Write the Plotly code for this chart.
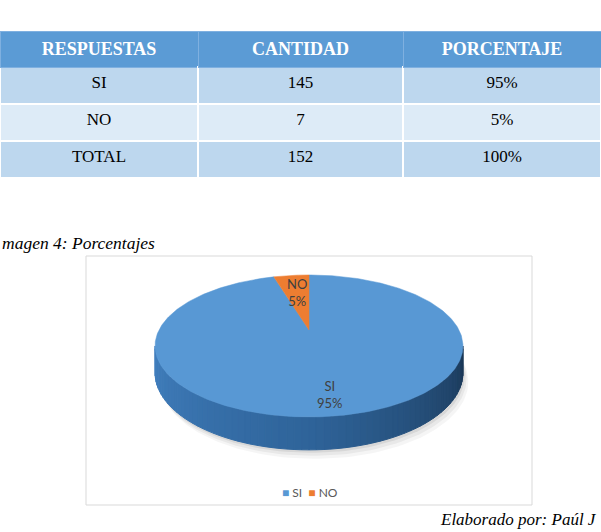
import numpy as np
import plotly.graph_objects as go

# ---------------- data ----------------
col_headers = ["RESPUESTAS", "CANTIDAD", "PORCENTAJE"]
respuestas = ["SI", "NO", "TOTAL"]
cantidad = ["145", "7", "152"]
porcentaje = ["95%", "5%", "100%"]

slice_labels = ["SI", "NO"]
slice_values = [145, 7]
slice_colors = ["#5898D4", "#ED7D31"]

caption = "magen 4: Porcentajes"
footer = "Elaborado por: Paúl J"

W, H = 601, 532

fig = go.Figure()

# ---------------- table ----------------
row_fill = ["#BDD7EE", "#DDEBF7", "#BDD7EE"]
fig.add_trace(go.Table(
    domain=dict(x=[0, 1], y=[1 - 215 / H, 1 - 31 / H]),
    columnwidth=[198, 205, 198],
    header=dict(values=["<b>%s</b>" % h for h in col_headers],
                fill_color="#5B9BD5",
                line=dict(color="#7FB0E0", width=1),
                font=dict(family="Liberation Serif", size=18, color="white"),
                align="center", height=35),
    cells=dict(values=[respuestas, cantidad, porcentaje],
               fill_color=[row_fill, row_fill, row_fill],
               line=dict(color="white", width=2),
               font=dict(family="Liberation Serif", size=17, color="black"),
               align="center", height=37),
))

# ---------------- 3D pie (perspective projection) ----------------
cx, cy = 309.0, 330.0     # projected centre
A, B = 150.0, 67.4        # horizontal / vertical radius scale
k = 0.225                 # perspective strength
D = 25.5                  # extrusion depth


def proj(x, z, drop=0.0):
    s = 1.0 / (1.0 + k * z)
    return cx + A * x * s, cy - B * z * s + drop * s


total = float(sum(slice_values))
fracs = [v / total for v in slice_values]
starts, ends = [], []
a0 = np.pi / 2
for f in fracs:
    a1 = a0 - f * 2 * np.pi
    starts.append(a0)
    ends.append(a1)
    a0 = a1

# soft shadow under the pie
tt = np.linspace(0, 2 * np.pi, 200)
for off, alpha in [(9, 0.04), (6, 0.05), (3, 0.07)]:
    xs, ys = proj(np.cos(tt), np.sin(tt), D)
    fig.add_trace(go.Scatter(
        x=xs + off * 0.6, y=ys + off, mode="lines", fill="toself",
        fillcolor="rgba(0,0,0,%.2f)" % alpha, line=dict(width=0),
        hoverinfo="skip", showlegend=False))

# side (front half) with shading gradient
t_all = np.linspace(-np.pi, np.pi, 3601)
xs_all, _ = proj(np.cos(t_all), np.sin(t_all))
t_left = t_all[np.argmin(xs_all)] % (2 * np.pi)
t_right = t_all[np.argmax(xs_all)]
t_right = t_left + ((t_right - t_left) % (2 * np.pi))
nstrip = 70
tb = np.linspace(t_left, t_right, nstrip + 1)
c_left = np.array([0x42, 0x80, 0xC0])
c_mid = np.array([0x2F, 0x64, 0x9A])
c_right = np.array([0x1B, 0x38, 0x57])
for i in range(nstrip):
    ta = np.linspace(tb[i], tb[i + 1], 4)
    xt, yt = proj(np.cos(ta), np.sin(ta))
    xb, yb = proj(np.cos(ta[::-1]), np.sin(ta[::-1]), D)
    u = (i + 0.5) / nstrip
    if u < 0.5:
        c = c_left + (c_mid - c_left) * (u / 0.5)
    else:
        c = c_mid + (c_right - c_mid) * ((u - 0.5) / 0.5)
    col = "rgb(%d,%d,%d)" % tuple(c.astype(int))
    fig.add_trace(go.Scatter(
        x=np.concatenate([xt, xb, xt[:1]]), y=np.concatenate([yt, yb, yt[:1]]),
        mode="lines", fill="toself", fillcolor=col,
        line=dict(color=col, width=1), hoverinfo="skip", showlegend=False))

# top face slices
for lab, s0, s1, col in zip(slice_labels, starts, ends, slice_colors):
    n = max(8, int(abs(s1 - s0) / (2 * np.pi) * 400))
    ta = np.linspace(s0, s1, n)
    xt, yt = proj(np.cos(ta), np.sin(ta))
    fig.add_trace(go.Scatter(
        x=np.concatenate([[cx], xt, [cx]]), y=np.concatenate([[cy], yt, [cy]]),
        mode="lines", fill="toself", fillcolor=col,
        line=dict(color=col, width=0.5), hoverinfo="skip", showlegend=False))

# data labels
label_r = {"SI": 0.80, "NO": 0.64}
for lab, s0, s1, f in zip(slice_labels, starts, ends, fracs):
    m = (s0 + s1) / 2
    r = label_r[lab]
    lx, ly = proj(r * np.cos(m), r * np.sin(m))
    fig.add_annotation(x=lx, y=ly, xref="x", yref="y",
                       text="%s<br>%d%%" % (lab, round(f * 100)),
                       showarrow=False,
                       font=dict(family="Lato", size=13, color="#404040"))

# legend
leg = "  ".join('<span style="color:%s">■</span> %s' % (c, l)
                for l, c in zip(slice_labels, slice_colors))
fig.add_annotation(x=310, y=492, xref="x", yref="y", text=leg, showarrow=False,
                   font=dict(family="Lato", size=12, color="#595959"))

# caption & footer
fig.add_annotation(x=0, y=243, xref="x", yref="y", text="<i>%s</i>" % caption,
                   xanchor="left", showarrow=False,
                   font=dict(family="Liberation Serif", size=17.5, color="black"))
fig.add_annotation(x=599, y=519, xref="x", yref="y", text="<i>%s</i>" % footer,
                   xanchor="right", showarrow=False,
                   font=dict(family="Liberation Serif", size=17, color="black"))

# chart frame
fig.add_shape(type="rect", xref="x", yref="y", x0=86, y0=256, x1=532, y1=505,
              line=dict(color="#D9D9D9", width=1), fillcolor="white", layer="below")

fig.update_layout(
    width=W, height=H, margin=dict(l=0, r=0, t=0, b=0),
    paper_bgcolor="white", plot_bgcolor="rgba(0,0,0,0)",
    xaxis=dict(range=[0, W], domain=[0, 1], visible=False, fixedrange=True),
    yaxis=dict(range=[H, 0], domain=[0, 1], visible=False, fixedrange=True),
    showlegend=False,
)

fig.write_html("out.html")
